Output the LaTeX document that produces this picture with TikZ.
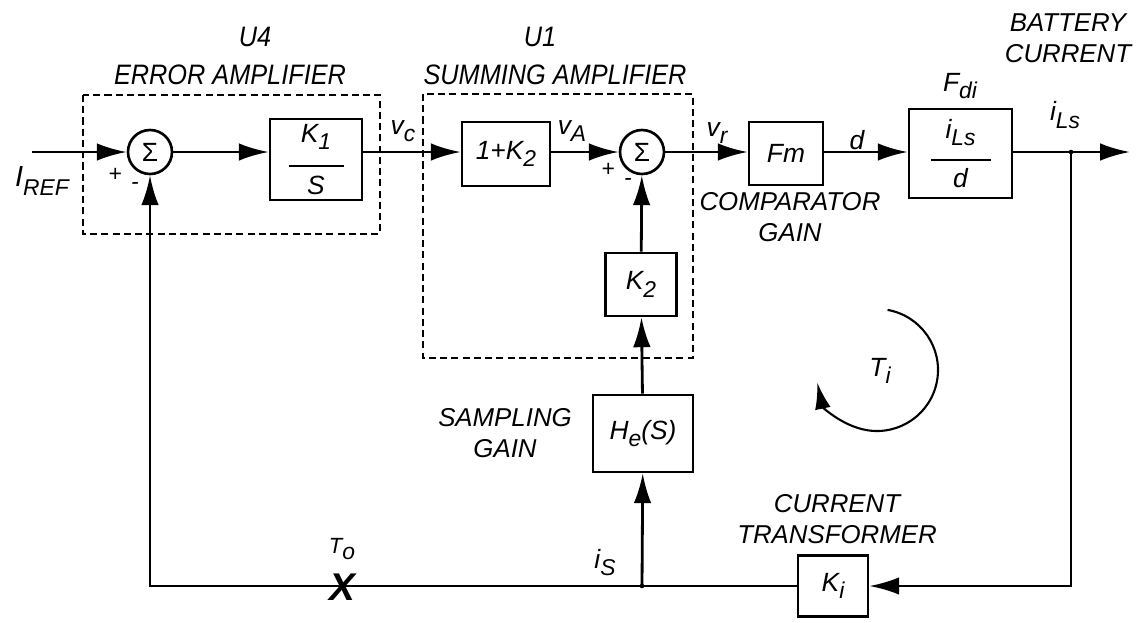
\documentclass[tikz,border=0pt]{standalone}
\usepackage{fontspec}
\setmainfont{Liberation Sans}
\usetikzlibrary{positioning, arrows.meta, calc}
\newcommand{\lo}[1]{\raisebox{-0.55ex}{\fontsize{13}{14}\selectfont #1}}
\newcommand{\narrow}[1]{\scalebox{0.9}[1]{#1}}

\begin{document}
\begin{tikzpicture}[
    line width=1.6pt,
    block/.style={rectangle, draw=black, line width=1.5pt, align=center, inner sep=2pt, font=\fontsize{15}{17}\selectfont\itshape},
    sumnode/.style={circle, draw=black, line width=1.5pt, minimum size=0.88cm, inner sep=0pt, font=\fontsize{15}{17}\selectfont},
    dashbox/.style={draw=black, line width=1.5pt, dash pattern=on 4pt off 2.4pt},
    sig/.style={-{Latex[length=17pt, width=10pt]}, line width=1.6pt},
    note/.style={align=center, inner sep=0pt, font=\fontsize{14.7}{17.5}\selectfont\itshape},
    title/.style={inner sep=0pt, font=\fontsize{16}{18}\selectfont\itshape},
    lbl/.style={inner sep=0pt, font=\fontsize{15}{17}\selectfont\itshape}
]
    \useasboundingbox (0,0) rectangle (22.86,-12.44);

    % dashed amplifier frames
    \draw[dashbox] (1.66,-1.9) rectangle (7.6,-4.68);
    \draw[dashbox] (8.46,-1.88) rectangle (13.86,-7.16);

    % forward path
    \node[sumnode] (sum1) at (3.0,-3.04) {Σ};
    \node[block, minimum width=1.84cm, minimum height=1.62cm] (k1s) at (6.32,-3.19) {K\lo{1}\\[-3pt]\rule{1.1cm}{1pt}\\[-1pt]S};
    \node[block, minimum width=1.76cm, minimum height=1.28cm] (onek2) at (10.12,-3.08) {1+K\lo{2}};
    \node[sumnode] (sum2) at (12.84,-3.04) {Σ};
    \node[block, minimum width=1.48cm, minimum height=1.26cm] (fm) at (15.72,-3.07) {Fm};
    \node[block, minimum width=2.06cm, minimum height=1.78cm] (fdi) at (19.21,-3.07) {i\lo{Ls}\\[-4pt]\rule{1.2cm}{1pt}\\[-2pt]d};

    % feedback blocks
    \node[block, minimum width=1.42cm, minimum height=1.26cm] (k2) at (12.82,-5.69) {K\lo{2}};
    \node[block, minimum width=2.0cm, minimum height=1.54cm] (he) at (12.86,-8.67) {H\lo{e}(S)};
    \node[block, minimum width=1.4cm, minimum height=1.22cm] (ki) at (16.66,-11.72) {K\lo{i}};

    \coordinate (iref) at (0.64,-3.04);
    \coordinate (out) at (22.6,-3.04);
    \coordinate (tap) at (21.42,-3.04);
    \coordinate (is) at (12.84,-11.72);

    % connectors
    \draw[sig] (iref) -- (sum1);
    \draw[sig] (sum1) -- (sum1 -| k1s.west);
    \draw[sig] (sum1 -| k1s.east) -- (sum1 -| onek2.west);
    \draw[sig] (sum1 -| onek2.east) -- (sum2);
    \draw[sig] (sum2) -- (sum2 -| fm.west);
    \draw[sig] (sum2 -| fm.east) -- (sum2 -| fdi.west);
    \draw[sig] (sum2 -| fdi.east) -- (out);
    \draw[sig] (tap) |- (ki);
    \draw[sig] (ki) -| (sum1);
    \draw[sig] (is) -- (he);
    \draw[sig] (he) -- (k2);
    \draw[sig] (k2) -- (sum2);
    \fill (tap) circle (1.3pt);
    \fill (is) circle (1.3pt);

    % loop break and loop gain
    \node[inner sep=0pt, font=\fontsize{22}{22}\selectfont\bfseries\itshape] (brk) at (6.84,-11.74) {X};
    \draw[-{Latex[length=15pt, width=9pt]}, line width=1.2pt] ($(17.54,-7.4)+(80:1.22)$) arc[start angle=80, end angle=-168, radius=1.22];

    % labels
    \node[title] (u4) at (5.1,-0.74) {\narrow{U4}};
    \node[title] (ea) at (4.6,-1.5) {\narrow{ERROR AMPLIFIER}};
    \node[title] (u1) at (10.8,-0.74) {\narrow{U1}};
    \node[title] (sa) at (11.1,-1.5) {\narrow{SUMMING AMPLIFIER}};
    \node[note] (bc) at (21.36,-0.77) {BATTERY\\CURRENT};
    \node[note] (cg) at (15.8,-4.34) {COMPARATOR\\GAIN};
    \node[note] (sg) at (10.1,-8.66) {SAMPLING\\GAIN};
    \node[note] (ct) at (16.74,-10.38) {CURRENT\\TRANSFORMER};

    \node[lbl, font=\fontsize{16.5}{18}\selectfont\itshape] (lref) at (0.84,-3.62) {I\lo{REF}};
    \node[lbl] (lvc) at (8.06,-2.62) {v\lo{c}};
    \node[lbl] (lva) at (11.44,-2.62) {v\lo{A}};
    \node[lbl] (lvr) at (14.34,-2.66) {v\lo{r}};
    \node[lbl] (ld) at (17.14,-2.8) {d};
    \node[lbl] (lfdi) at (19.2,-1.72) {F\lo{di}};
    \node[lbl] (lils) at (21.3,-2.3) {i\lo{Ls}};
    \node[lbl] (lis) at (12.1,-11.25) {i\lo{S}};
    \node[lbl, font=\fontsize{12.5}{14}\selectfont\itshape] (lto) at (6.84,-10.98) {T\lo{o}};
    \node[lbl] (lti) at (17.6,-7.42) {T\lo{i}};

    \node[lbl, font=\fontsize{13}{14}\selectfont\itshape] at (2.3,-3.5) {+};
    \node[lbl, font=\fontsize{13}{14}\selectfont\itshape] at (2.7,-3.72) {-};
    \node[lbl, font=\fontsize{13}{14}\selectfont\itshape] at (12.16,-3.4) {+};
    \node[lbl, font=\fontsize{13}{14}\selectfont\itshape] at (12.56,-3.64) {-};
\end{tikzpicture}
\end{document}
